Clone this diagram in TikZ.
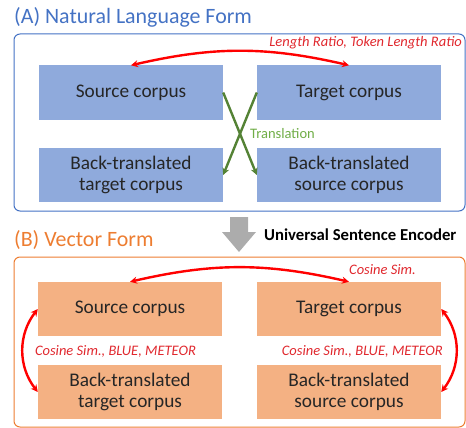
\documentclass[tikz,border=0pt]{standalone}
\usepackage{fontspec}
\setmainfont{Carlito}
\usetikzlibrary{arrows.meta}
\definecolor{boxblue}{HTML}{8FAADC}
\definecolor{lineblue}{HTML}{4472C4}
\definecolor{boxorange}{HTML}{F4B183}
\definecolor{lineorange}{HTML}{ED7D31}
\definecolor{darkgreen}{HTML}{548235}
\definecolor{lightgreen}{HTML}{70AD47}
\definecolor{labelred}{HTML}{E0282E}
\definecolor{txt}{HTML}{262626}
\tikzset{
  corpus/.style={minimum width=184pt, minimum height=54pt, inner sep=0pt, align=center,
    text=txt, font=\fontsize{19.3}{21.5}\selectfont},
  bluebox/.style={corpus, fill=boxblue},
  orangebox/.style={corpus, fill=boxorange},
  frame/.style={rounded corners=6pt, line width=1pt},
  redarr/.style={red, line width=2.4pt, {Stealth[length=7pt,width=7pt]}-{Stealth[length=7pt,width=7pt]}},
  greenarr/.style={darkgreen, line width=2.4pt, -{Stealth[length=7pt,width=7pt]}},
  lbl/.style={font=\fontsize{14.5}{16}\selectfont\itshape, text=labelred, inner sep=0pt}
}
\begin{document}
\begin{tikzpicture}[x=1pt,y=1pt]
\useasboundingbox (0,0) rectangle (466,-428);
% (A)
\node[anchor=west, text=lineblue, inner sep=0pt, font=\fontsize{21.9}{24}\selectfont] (ta) at (14,-17) {(A) Natural Language Form};
\draw[frame, lineblue] (14,-34) rectangle (465,-211);
\node[bluebox] (src) at (131,-92.5) {Source corpus};
\node[bluebox] (tgt) at (349,-92.5) {Target corpus};
\node[bluebox] (btt) at (131,-175) {Back-translated\\target corpus};
\node[bluebox] (bts) at (349,-175) {Back-translated\\source corpus};
\draw[redarr] (src.north) to[bend left=13] (tgt.north);
\node[lbl, anchor=east] (l1) at (462,-43) {Length Ratio, Token Length Ratio};
\draw[greenarr] (src.east) -- (bts.west);
\draw[greenarr] (tgt.west) -- (btt.east);
\node[anchor=west, inner sep=0pt, text=lightgreen, font=\fontsize{14.5}{16}\selectfont] (tr) at (250,-134) {Translation};
% gray arrow
\fill[gray!65] (230,-217) -- (248,-217) -- (248,-232) -- (256,-232) -- (239,-252) -- (222,-232) -- (230,-232) -- cycle;
\node[anchor=west, inner sep=0pt, font=\fontsize{16.7}{19}\selectfont\bfseries] (use) at (264,-235) {Universal Sentence Encoder};
% (B)
\node[anchor=west, text=lineorange, inner sep=0pt, font=\fontsize{21.9}{24}\selectfont] (tb) at (14,-240) {(B) Vector Form};
\draw[frame, lineorange] (14,-257) rectangle (465,-427);
\node[orangebox] (vsrc) at (130,-309) {Source corpus};
\node[orangebox] (vtgt) at (349,-309) {Target corpus};
\node[orangebox] (vbtt) at (130,-392) {Back-translated\\target corpus};
\node[orangebox] (vbts) at (349,-392) {Back-translated\\source corpus};
\draw[redarr] (vsrc.north) to[bend left=13] (vtgt.north);
\node[lbl, anchor=west] (l2) at (349,-270) {Cosine Sim.};
\draw[redarr] (vsrc.west) to[bend right=38] (vbtt.west);
\draw[redarr] (vtgt.east) to[bend left=38] (vbts.east);
\node[lbl] (l3) at (115.5,-351) {Cosine Sim., BLUE, METEOR};
\node[lbl, anchor=east] (l4) at (443,-351) {Cosine Sim., BLUE, METEOR};
\end{tikzpicture}
\end{document}
